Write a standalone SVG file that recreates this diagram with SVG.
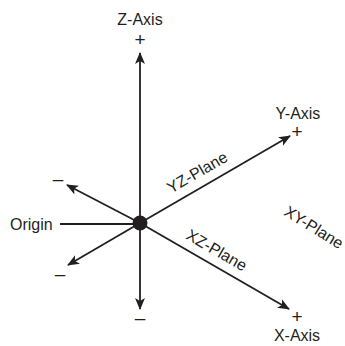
<svg xmlns="http://www.w3.org/2000/svg" width="345" height="346" viewBox="0 0 345 346">
<style>
  text { font-family: "Liberation Sans", Arial, sans-serif; font-size: 16px; fill: #231f20; }
  .ax { stroke: #231f20; stroke-width: 1.8; fill: none; }
  .c { text-anchor: middle; }
  .s { font-size: 19px; }
</style>
<defs>
  <marker id="ah" viewBox="0 0 12 10" refX="11" refY="5" markerWidth="12" markerHeight="10" markerUnits="userSpaceOnUse" orient="auto">
    <path d="M0,0 L12,5 L0,10 L3,5 Z" fill="#231f20"/>
  </marker>
</defs>
<rect width="345" height="346" fill="#fff"/>
<g id="connectors">
  <line class="ax" x1="140" y1="223" x2="140" y2="53" marker-end="url(#ah)"/>
  <line class="ax" x1="140" y1="223" x2="140" y2="309" marker-end="url(#ah)"/>
  <line class="ax" x1="140" y1="223" x2="290" y2="136" marker-end="url(#ah)"/>
  <line class="ax" x1="140" y1="223" x2="289" y2="309" marker-end="url(#ah)"/>
  <line class="ax" x1="140" y1="223" x2="67" y2="185" marker-end="url(#ah)"/>
  <line class="ax" x1="140" y1="223" x2="68" y2="265" marker-end="url(#ah)"/>
  <line class="ax" x1="60" y1="224" x2="140" y2="224" stroke-width="1.2"/>
</g>
<g id="origin">
  <circle cx="140" cy="223" r="7.5" fill="#231f20"/>
  <text x="10" y="230">Origin</text>
</g>
<g id="z-axis">
  <text class="c" x="140" y="25">Z-Axis</text>
  <text class="c s" x="140" y="46">+</text>
  <text class="c s" x="140" y="324">–</text>
</g>
<g id="y-axis">
  <text class="c" x="298" y="119">Y-Axis</text>
  <text class="c s" x="297" y="138">+</text>
  <text class="c s" x="58" y="185">–</text>
</g>
<g id="x-axis">
  <text class="c s" x="297" y="323">+</text>
  <text class="c" x="297" y="341">X-Axis</text>
  <text class="c s" x="60" y="280">–</text>
</g>
<g id="yz-plane">
  <text class="c" transform="translate(200,177) rotate(-30)">YZ-Plane</text>
</g>
<g id="xz-plane">
  <text class="c" transform="translate(214,255) rotate(30)">XZ-Plane</text>
</g>
<g id="xy-plane">
  <text class="c" transform="translate(311,232) rotate(32)">XY-Plane</text>
</g>
</svg>
